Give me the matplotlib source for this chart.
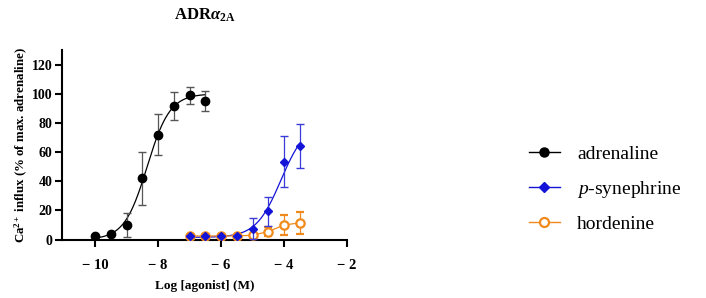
import numpy as np
import matplotlib
matplotlib.use("Agg")
import matplotlib.pyplot as plt
from matplotlib.lines import Line2D

SERIF = 'Liberation Serif'
plt.rcParams['mathtext.fontset'] = 'custom'
plt.rcParams['mathtext.rm'] = SERIF
plt.rcParams['mathtext.it'] = SERIF + ':italic'
plt.rcParams['mathtext.bf'] = SERIF + ':bold'
plt.rcParams['mathtext.bfit'] = SERIF + ':italic:bold'

# data
log_conc_adr = [-10, -9.5, -9, -8.5, -8, -7.5, -7, -6.5]
adrenaline = [2.5, 4, 10, 42, 72, 91.5, 99, 95]
adrenaline_err = [0, 0, 8.5, 18, 14, 9.5, 6, 7]

log_conc = [-7, -6.5, -6, -5.5, -5, -4.5, -4, -3.5]
synephrine = [2.5, 2.5, 2.5, 2.5, 7.5, 19.5, 53.5, 64]
synephrine_err = [0, 0, 0, 0, 7, 10, 17.5, 15]
hordenine = [2.5, 2.5, 2.5, 2.5, 3, 5.5, 10, 11.5]
hordenine_err = [0, 0, 0, 0, 0, 3, 7, 7.5]

x_ticks = [-10, -8, -6, -4, -2]
x_ticklabels = ['\u2212 10', '\u2212 8', '\u2212 6', '\u2212 4', '\u2212 2']
y_ticks = [0, 20, 40, 60, 80, 100, 120]

# fitted Hill parameters (bottom, top, logEC50, slope) estimated from the curves
fit_adr = (0, 100, -8.35, 1.2)
fit_syn = (1.5, 80, -4.1, 1.1)

ORANGE = '#f08a1c'
BLUE = '#1414d8'


def hill(x, bottom, top, logec50, h):
    return bottom + (top - bottom) / (1 + 10 ** ((logec50 - x) * h))


fig = plt.figure(figsize=(7.06, 2.98), dpi=100)
ax = fig.add_axes([0.088, 0.196, 0.4035, 0.636])

# fitted curves
xa = np.linspace(-9.85, -6.5, 200)
ax.plot(xa, hill(xa, *fit_adr), color='black', lw=0.9)
xs = np.linspace(-7, -3.5, 200)
ax.plot(xs, hill(xs, *fit_syn), color=BLUE, lw=0.9)

# hordenine (connected)
ax.errorbar(log_conc, hordenine, yerr=hordenine_err, color=ORANGE, lw=0.9,
            marker='o', ms=6, mfc='white', mec=ORANGE, mew=1.6,
            capsize=3, elinewidth=0.9, zorder=3)
# p-synephrine
ax.errorbar(log_conc, synephrine, yerr=synephrine_err, fmt='D', color=BLUE,
            ms=4.5, ecolor='#3a3ad8', capsize=3, elinewidth=0.9, zorder=4)
# adrenaline
ax.errorbar(log_conc_adr, adrenaline, yerr=adrenaline_err, fmt='o', color='black',
            ms=6, ecolor='#555555', capsize=3, elinewidth=0.9, zorder=5)

ax.set_xlim(-11.05, -2)
ax.set_ylim(0, 130)
ax.set_xticks(x_ticks)
ax.set_xticklabels(x_ticklabels)
ax.set_yticks(y_ticks)
ax.spines['top'].set_visible(False)
ax.spines['right'].set_visible(False)
for s in ['left', 'bottom']:
    ax.spines[s].set_linewidth(1.5)
ax.tick_params(width=1.5, length=5, labelsize=10.5, pad=3)
ax.tick_params(axis='y', labelsize=10, pad=2)
ax.tick_params(axis='x', pad=9)
for lab in ax.get_xticklabels() + ax.get_yticklabels():
    lab.set_fontfamily(SERIF)
    lab.set_fontweight('bold')

ax.set_xlabel('Log [agonist] (M)', fontfamily=SERIF, fontweight='bold',
              fontsize=9.5, labelpad=6)
ax.set_ylabel('Ca$^{\\mathbf{2+}}$ influx (% of max. adrenaline)', fontfamily=SERIF,
              fontweight='bold', fontsize=9.3, labelpad=1)
ax.set_title('ADR$\\mathbfit{\\alpha}_{\\mathbf{2A}}$', fontfamily=SERIF,
             fontweight='bold', fontsize=12, pad=22)

handles = [
    Line2D([], [], color='black', marker='o', ms=6.5, lw=1),
    Line2D([], [], color=BLUE, marker='D', ms=5, lw=1),
    Line2D([], [], color=ORANGE, marker='o', ms=6.5, mfc='white', mew=1.6, lw=1),
]
labels = ['adrenaline', '$\\it{p}$-synephrine', 'hordenine']
fig.legend(handles, labels, loc='center left', bbox_to_anchor=(0.724, 0.365),
           frameon=False, prop={'family': SERIF, 'size': 14},
           handlelength=1.6, labelspacing=0.8, handletextpad=0.9)

fig.savefig('out.png', dpi=100)
